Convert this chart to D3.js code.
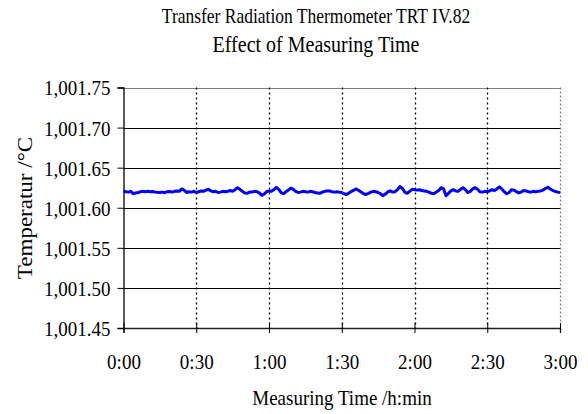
<!DOCTYPE html>
<html><head><meta charset="utf-8">
<script src="https://cdn.jsdelivr.net/npm/d3@7"></script>
<style>
html,body{margin:0;padding:0;background:#fff;}
svg text{font-family:"Liberation Serif","Times New Roman",serif !important;fill:#000;}
</style></head>
<body><svg id="chart" width="588" height="414"></svg>
<script>
// ---- data ----
const titleLines = ["Transfer Radiation Thermometer TRT IV.82", "Effect of Measuring Time"];
const xTitle = "Measuring Time /h:min";
const yTitle = "Temperatur /°C";
const xTickMinutes = [0, 30, 60, 90, 120, 150, 180];
const xTickLabels = ["0:00", "0:30", "1:00", "1:30", "2:00", "2:30", "3:00"];
const yTicks = [1001.45, 1001.50, 1001.55, 1001.60, 1001.65, 1001.70, 1001.75];
const sampleStepMin = 1; // one reading per minute
const temperature = [
1001.6205,1001.6200,1001.6195,1001.6205,1001.6175,1001.6185,1001.6190,1001.6200,1001.6205,1001.6200,
1001.6205,1001.6200,1001.6203,1001.6195,1001.6192,1001.6190,1001.6195,1001.6188,1001.6200,1001.6203,
1001.6195,1001.6205,1001.6210,1001.6205,1001.6235,1001.6220,1001.6190,1001.6200,1001.6195,1001.6205,
1001.6190,1001.6200,1001.6210,1001.6205,1001.6220,1001.6230,1001.6210,1001.6200,1001.6205,1001.6190,
1001.6195,1001.6205,1001.6200,1001.6205,1001.6215,1001.6205,1001.6225,1001.6250,1001.6230,1001.6205,
1001.6185,1001.6180,1001.6195,1001.6195,1001.6205,1001.6200,1001.6185,1001.6155,1001.6170,1001.6200,
1001.6210,1001.6205,1001.6225,1001.6255,1001.6230,1001.6190,1001.6175,1001.6200,1001.6220,1001.6245,
1001.6230,1001.6205,1001.6190,1001.6195,1001.6205,1001.6200,1001.6195,1001.6205,1001.6200,1001.6190,
1001.6185,1001.6180,1001.6195,1001.6205,1001.6210,1001.6210,1001.6200,1001.6195,1001.6200,1001.6195,
1001.6190,1001.6175,1001.6165,1001.6185,1001.6205,1001.6220,1001.6235,1001.6215,1001.6195,1001.6175,
1001.6165,1001.6180,1001.6195,1001.6205,1001.6200,1001.6190,1001.6175,1001.6150,1001.6170,1001.6200,
1001.6210,1001.6195,1001.6200,1001.6225,1001.6265,1001.6240,1001.6195,1001.6180,1001.6205,1001.6230,
1001.6225,1001.6220,1001.6225,1001.6215,1001.6210,1001.6205,1001.6195,1001.6180,1001.6175,1001.6195,
1001.6215,1001.6250,1001.6235,1001.6150,1001.6180,1001.6210,1001.6225,1001.6210,1001.6205,1001.6230,
1001.6250,1001.6225,1001.6190,1001.6205,1001.6235,1001.6250,1001.6230,1001.6200,1001.6195,1001.6205,
1001.6200,1001.6210,1001.6225,1001.6215,1001.6235,1001.6260,1001.6235,1001.6200,1001.6175,1001.6190,
1001.6225,1001.6220,1001.6200,1001.6185,1001.6195,1001.6215,1001.6210,1001.6200,1001.6195,1001.6205,
1001.6200,1001.6205,1001.6210,1001.6220,1001.6240,1001.6255,1001.6235,1001.6215,1001.6205,1001.6195,
1001.6190
];

// ---- layout ----
const plot = {left: 123.5, right: 560, top: 87.5, bottom: 328};
const fontSize = 19;
const stretch = 1.15; // glyphs in the reference are slightly taller than wide
const serif = "'Liberation Serif','Times New Roman',serif";
const svg = d3.select("#chart");

const x = d3.scaleLinear().domain([0, 180]).range([plot.left, plot.right]);
const y = d3.scaleLinear().domain([1001.45, 1001.75]).range([plot.bottom, plot.top]);

function tall(sel) {
  sel.each(function() {
    const t = d3.select(this);
    const ax = +t.attr("x") || 0, ay = +t.attr("y") || 0;
    t.attr("transform", `translate(${ax},${ay}) scale(1,${stretch}) translate(${-ax},${-ay})`);
  });
}

// horizontal gridlines
svg.append("g").selectAll("line").data(yTicks.slice(1, -1)).join("line")
  .attr("x1", plot.left).attr("x2", plot.right)
  .attr("y1", d => Math.round(y(d)) + 0.5).attr("y2", d => Math.round(y(d)) + 0.5)
  .attr("stroke", "#000").attr("stroke-width", 1);
// top border
svg.append("line").attr("x1", plot.left).attr("x2", plot.right)
  .attr("y1", Math.round(y(1001.75)) + 0.5).attr("y2", Math.round(y(1001.75)) + 0.5)
  .attr("stroke", "#808080").attr("stroke-width", 1);
// vertical dotted gridlines
svg.append("g").selectAll("line").data(xTickMinutes.slice(1, -1)).join("line")
  .attr("x1", d => Math.round(x(d)) + 0.5).attr("x2", d => Math.round(x(d)) + 0.5)
  .attr("y1", plot.top).attr("y2", plot.bottom)
  .attr("stroke", "#000").attr("stroke-width", 1.3).attr("stroke-dasharray", "2,3");
// right border dotted gray
svg.append("line")
  .attr("x1", Math.round(x(180)) + 0.5).attr("x2", Math.round(x(180)) + 0.5)
  .attr("y1", plot.top).attr("y2", plot.bottom)
  .attr("stroke", "#808080").attr("stroke-width", 1.3).attr("stroke-dasharray", "2,2");

// data line
const pts = temperature.map((v, i) => [i * sampleStepMin, v]);
svg.append("path").datum(pts)
  .attr("fill", "none").attr("stroke", "#0000ff").attr("stroke-width", 3)
  .attr("stroke-linejoin", "round")
  .attr("d", d3.line().x(d => x(d[0])).y(d => y(d[1])));

// y axis
const fmt = d3.format(",.2f");
const yAxis = d3.axisLeft(y).tickValues(yTicks).tickFormat(fmt).tickSize(6).tickPadding(7);
const gy = svg.append("g").attr("transform", `translate(${plot.left},0)`).call(yAxis)
  .attr("font-family", serif).attr("font-size", fontSize);
gy.select(".domain").attr("stroke", "#000").attr("stroke-width", 1.3);
gy.selectAll(".tick line").attr("stroke", "#000");
gy.selectAll(".tick text").style("font-family", serif).style("font-size", fontSize + "px").attr("dy", "0.34em").call(tall);

// x axis
const xAxis = d3.axisBottom(x).tickValues(xTickMinutes).tickFormat((d, i) => xTickLabels[i]).tickSize(5).tickPadding(20);
const gx = svg.append("g").attr("transform", `translate(0,${plot.bottom})`).call(xAxis)
  .attr("font-family", serif).attr("font-size", fontSize);
gx.select(".domain").attr("stroke", "#222").attr("stroke-width", 1.3);
gx.selectAll(".tick line").attr("y1", -5).attr("stroke", "#000");
gx.selectAll(".tick text").style("font-family", serif).style("font-size", fontSize + "px").call(tall);

// titles
svg.append("text").attr("x", 316).attr("y", 23).attr("text-anchor", "middle")
  .style("font-size", "17.5px").text(titleLines[0]).call(tall);
svg.append("text").attr("x", 316).attr("y", 52).attr("text-anchor", "middle")
  .style("font-size", "20px").text(titleLines[1]).call(tall);
svg.append("text").attr("x", 342).attr("y", 405).attr("text-anchor", "middle")
  .style("font-size", fontSize + "px").text(xTitle).call(tall);
svg.append("text").attr("transform", `translate(32,208) scale(1,${stretch}) rotate(-90)`).attr("text-anchor", "middle")
  .style("font-size", "20px").text(yTitle);
</script></body></html>
